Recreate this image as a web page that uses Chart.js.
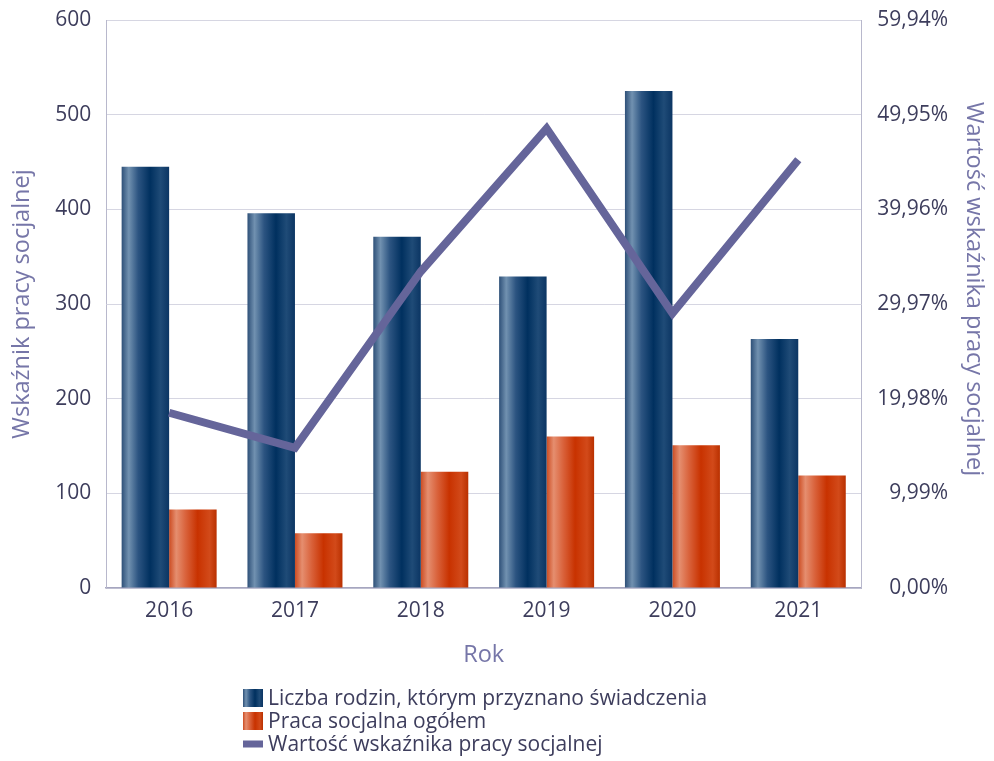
<!DOCTYPE html>
<html>
<head>
<meta charset="utf-8">
<script src="https://cdn.jsdelivr.net/npm/chart.js@4/dist/chart.umd.min.js"></script>
<style>
  html, body { margin: 0; padding: 0; background: #fff; }
  #wrap { width: 994px; height: 761px; }
</style>
</head>
<body>
<div id="wrap"><canvas id="wykres"></canvas></div>
<script>
const lata = ['2016', '2017', '2018', '2019', '2020', '2021']
const liczbaRodzin = [445, 396, 371, 329, 525, 263]
const pracaSocjalna = [83, 58, 123, 160, 151, 119]
const wskaznik = [18.5, 14.8, 33.4, 48.5, 29.0, 45.2]
const lewaOs = [0, 100, 200, 300, 400, 500, 600]
const prawaOs = [0, 9.99, 19.98, 29.97, 39.96, 49.95, 59.94]
const tytulPrawy = 'Wartość wskaźnika pracy socjalnej'

const catPct = 0.755
const fontFam = '"Open Sans", "DejaVu Sans", sans-serif'
const textColor = '#3d3d5c'
const titleColor = '#7676a8'
const lineColor = '#65659a'

const blueStops = [[0, '#2e5078'], [0.15, '#7191b0'], [0.35, '#2c5481'], [0.6, '#00305f'], [0.82, '#1f4b77'], [1, '#0b3563']]
const orangeStops = [[0, '#cc4c22'], [0.15, '#e58e6f'], [0.35, '#d9623b'], [0.6, '#c83200'], [0.85, '#d24a1a'], [1, '#b93000']]

function makeGradient(c, left, width, stops) {
    const g = c.createLinearGradient(left, 0, left + width, 0)
    stops.forEach((s) => g.addColorStop(s[0], s[1]))
    return g
}

// gradient liczony z pozycji słupka na osi x
function barFill(stops, side) {
    return (ctx) => {
        const chart = ctx.chart
        const x = chart.scales && chart.scales.x
        if (!x || !chart.chartArea) return stops[3][1]
        const center = x.getPixelForValue(ctx.dataIndex)
        const w = (x.width / lata.length) * catPct / 2
        const left = center - w + side * w
        return makeGradient(chart.ctx, left, w, stops)
    }
}

const legendaPlugin = {
    id: 'legendaLista',
    afterDraw(chart) {
        const c = chart.ctx
        const x0 = 243
        const rows = [698, 721, 744]
        c.save()
        c.font = '21px ' + fontFam
        c.textBaseline = 'middle'
        chart.data.datasets.forEach((ds, i) => {
            const y = rows[i]
            if (ds.type === 'line') {
                c.fillStyle = lineColor
                c.fillRect(x0, y - 3.5, 20, 7)
            } else {
                c.fillStyle = makeGradient(c, x0, 20, i === 0 ? blueStops : orangeStops)
                c.fillRect(x0, y - 9, 20, 18)
            }
            c.fillStyle = textColor
            c.fillText(ds.label, x0 + 25, y + 1)
        })
        // tytuł prawej osi
        const a = chart.chartArea
        c.translate(974, (a.top + a.bottom) / 2 - 15)
        c.rotate(Math.PI / 2)
        c.font = '23.5px ' + fontFam
        c.fillStyle = titleColor
        c.textAlign = 'center'
        c.fillText(tytulPrawy, 0, 0)
        c.restore()
    }
}

const data = {
    labels: lata,
    datasets: [{
        type: 'bar',
        label: 'Liczba rodzin, którym przyznano świadczenia',
        data: liczbaRodzin,
        backgroundColor: barFill(blueStops, 0),
        yAxisID: 'y',
        order: 2
    }, {
        type: 'bar',
        label: 'Praca socjalna ogółem',
        data: pracaSocjalna,
        backgroundColor: barFill(orangeStops, 1),
        yAxisID: 'y',
        order: 2
    }, {
        type: 'line',
        label: 'Wartość wskaźnika pracy socjalnej',
        data: wskaznik,
        borderColor: lineColor,
        borderWidth: 8,
        pointRadius: 0,
        tension: 0,
        fill: false,
        yAxisID: 'y1',
        order: 0
    }]
}

const config = {
    data: data,
    plugins: [legendaPlugin],
    options: {
        responsive: true,
        maintainAspectRatio: false,
        animation: false,
        layout: { padding: { top: 0, right: 46, bottom: 92, left: 8 } },
        datasets: { bar: { categoryPercentage: catPct, barPercentage: 1.0 } },
        plugins: { legend: { display: false }, tooltip: { enabled: false } },
        scales: {
            x: {
                grid: { display: false },
                border: { color: '#a6a6bf', width: 1.5 },
                ticks: { color: textColor, font: { family: fontFam, size: 21 }, padding: 2 },
                title: { display: true, text: 'Rok', color: titleColor, font: { family: fontFam, size: 23.5 }, padding: { top: 15.5, bottom: 0 } }
            },
            y: {
                position: 'left',
                min: 0,
                max: 600,
                afterBuildTicks: (s) => { s.ticks = lewaOs.map((v) => ({ value: v })) },
                afterFit: (s) => { s.paddingTop = 20; s.paddingBottom = 14 },
                grid: { color: '#d6d6e2', drawTicks: false },
                border: { color: '#b8b8cc' },
                ticks: { color: textColor, font: { family: fontFam, size: 21 }, padding: 15 },
                title: { display: true, text: 'Wskaźnik pracy socjalnej', color: titleColor, font: { family: fontFam, size: 23.5 }, padding: { top: 0, bottom: 4 } }
            },
            y1: {
                position: 'right',
                min: 0,
                max: 59.94,
                afterBuildTicks: (s) => { s.ticks = prawaOs.map((v) => ({ value: v })) },
                afterFit: (s) => { s.paddingTop = 20; s.paddingBottom = 14 },
                grid: { drawOnChartArea: false, drawTicks: false },
                border: { color: '#b8b8cc' },
                ticks: {
                    color: textColor,
                    font: { family: fontFam, size: 21 },
                    padding: 8,
                    crossAlign: 'far',
                    callback: (v) => v.toFixed(2).replace('.', ',') + '%'
                }
            }
        }
    }
}

const ctxWykres = document.getElementById('wykres')
new Chart(ctxWykres, config)
</script>
</body>
</html>
